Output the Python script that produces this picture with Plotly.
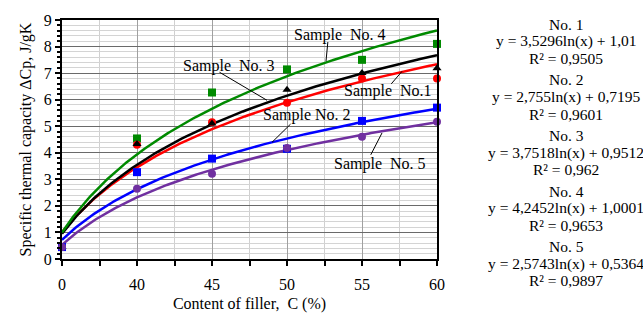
import numpy as np
import plotly.graph_objects as go

# ---- data ----
x_pos = [1, 2, 3, 4, 5, 6]
x_labels = ["0", "40", "45", "50", "55", "60"]

s1 = [0.45, 4.30, 5.15, 5.88, 6.80, 6.80]   # Sample No.1 (red)
s2 = [0.45, 3.27, 3.78, 4.15, 5.20, 5.70]   # Sample No.2 (blue)
s3 = [0.45, 4.33, 5.10, 6.37, 7.00, 7.18]   # Sample No.3 (black)
s4 = [0.45, 4.54, 6.27, 7.14, 7.50, 8.10]   # Sample No.4 (green)
s5 = [0.45, 2.65, 3.21, 4.18, 4.60, 5.17]   # Sample No.5 (purple)

coef_a = [3.5296, 2.755, 3.7518, 4.2452, 2.5743]
coef_b = [1.01, 0.7195, 0.9512, 1.0001, 0.5364]
a_txt = ["3,5296", "2,755", "3,7518", "4,2452", "2,5743"]
b_txt = ["1,01", "0,7195", "0,9512", "1,0001", "0,5364"]
r2_txt = ["0,9505", "0,9601", "0,962", "0,9653", "0,9897"]
names = ["No. 1", "No. 2", "No. 3", "No. 4", "No. 5"]

colors = ["#ff0000", "#0000ff", "#000000", "#008a00", "#7030a0"]
symbols = ["circle", "square", "triangle-up", "square", "circle"]
series = [s1, s2, s3, s4, s5]

FONT = "Liberation Serif, Times New Roman, serif"
W, H = 643, 322
L, R, T, B = 62, 206, 16, 50
X0, X1, Y0, Y1 = 1, 6, 0, 9
PW, PH = W - L - R, H - T - B


def px2x(px):
    return X0 + (px - L) / PW * (X1 - X0)


def px2y(py):
    return Y1 - (py - T) / PH * (Y1 - Y0)


fig = go.Figure()

xs = np.linspace(1, 6, 200)
for i in range(5):
    fig.add_trace(go.Scatter(x=xs, y=coef_a[i] * np.log(xs) + coef_b[i], mode="lines",
                             line=dict(color=colors[i], width=2.5), showlegend=False,
                             hoverinfo="skip", cliponaxis=False))

for i in [3, 0, 2, 1, 4]:
    fig.add_trace(go.Scatter(x=x_pos, y=series[i], mode="markers",
                             marker=dict(color=colors[i], symbol=symbols[i], size=8),
                             showlegend=False, cliponaxis=False))

# curve labels with leader lines (pixel positions of label centre, tail, head)
labels = [
    ("Sample  No. 4", (340, 32), (328, 38), (326, 60)),
    ("Sample  No. 3", (229, 65), (218, 71), (267, 102)),
    ("Sample  No.1", (388, 92), (390, 86), (402, 71)),
    ("Sample No. 2", (307, 118), (292, 126), (272, 147)),
    ("Sample  No. 5", (380, 170), (370, 162), (382, 137)),
]
for txt, c, tail, head in labels:
    fig.add_annotation(x=px2x(c[0]), y=px2y(c[1]), text=txt, showarrow=False,
                       font=dict(family=FONT, size=16, color="black"),
                       xanchor="center", yanchor="middle")
    fig.add_annotation(x=px2x(head[0]), y=px2y(head[1]), ax=px2x(tail[0]), ay=px2y(tail[1]),
                       axref="x", ayref="y", text="", showarrow=True, arrowhead=0,
                       arrowwidth=1, arrowcolor="black")

# right-hand equation block (pixel positions converted to paper coords)
for i in range(5):
    base = 20.7 + 59.5 * i
    lines = [names[i], "y = %sln(x) + %s" % (a_txt[i], b_txt[i]), "R² = %s" % r2_txt[i]]
    for j, t in enumerate(lines):
        py = base + 18.3 * j
        fig.add_annotation(x=(566 - L) / PW, y=1 - (py - T) / PH, xref="paper", yref="paper",
                           text=t, showarrow=False,
                           font=dict(family=FONT, size=15.5, color="black"),
                           xanchor="center", yanchor="middle")

fig.update_layout(
    width=W, height=H, margin=dict(l=L, r=R, t=T, b=B),
    paper_bgcolor="white", plot_bgcolor="white",
    font=dict(family=FONT, size=16, color="black"),
    xaxis=dict(range=[X0, X1], tickvals=x_pos, ticktext=x_labels,
               showgrid=True, gridcolor="#a0a0a0", gridwidth=1,
               showline=True, linecolor="black", linewidth=2, mirror=True,
               ticks="outside", ticklen=5, tickcolor="black", tickwidth=1.5,
               ticklabelstandoff=5, zeroline=False,
               minor=dict(dtick=0.5, tick0=1, showgrid=True, gridcolor="#d0d0d0",
                          ticks="outside", ticklen=5, tickcolor="black"),
               title=dict(text="Content of filler,  C (%)", standoff=6,
                          font=dict(family=FONT, size=16))),
    yaxis=dict(range=[Y0, Y1], dtick=1, tick0=0,
               showgrid=True, gridcolor="#6a6a6a", gridwidth=1,
               showline=True, linecolor="black", linewidth=2, mirror=True,
               ticks="outside", ticklen=5, tickcolor="black", tickwidth=1.5,
               zeroline=False,
               minor=dict(dtick=0.2, showgrid=True, gridcolor="#d4d4d4",
                          ticks="outside", ticklen=3, tickcolor="black"),
               title=dict(text="Specific thermal capacity ΔCp, J/gK", standoff=8,
                          font=dict(family=FONT, size=16))),
)

fig.write_html("out.html")
